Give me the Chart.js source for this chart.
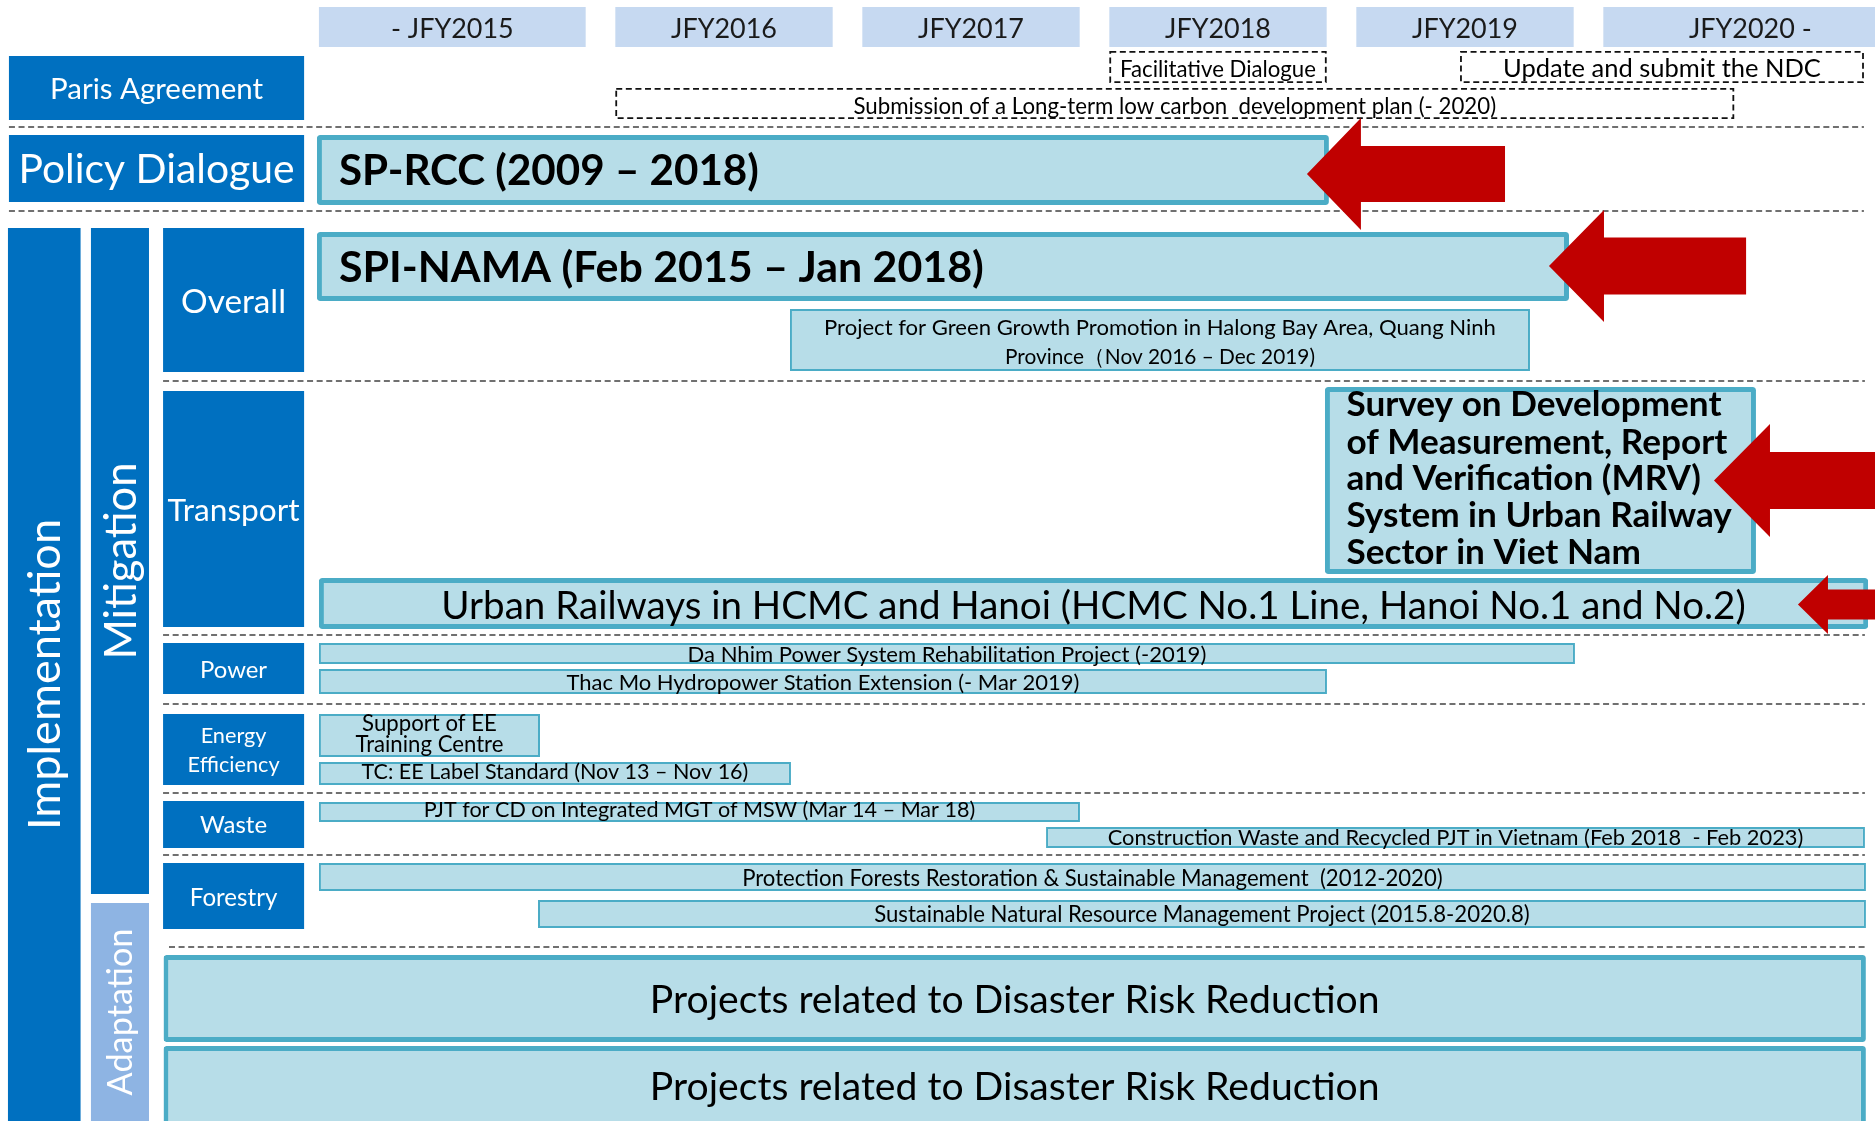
<!DOCTYPE html>
<html>
<head>
<meta charset="utf-8">
<title>Climate change cooperation timeline</title>
<script src="https://cdn.jsdelivr.net/npm/chart.js@4.4.1/dist/chart.umd.min.js"></script>
<style>
html,body{margin:0;padding:0;background:#ffffff;overflow:hidden;}
canvas{display:block;}
</style>
</head>
<body>
<canvas id="chart" width="1875" height="1121"></canvas>
<script>
// ================= DATA =================
const fiscalYears    = ['- JFY2015', 'JFY2016', 'JFY2017', 'JFY2018', 'JFY2019', 'JFY2020 -'];
const fiscalYearFrom = [2014.86, 2016.06, 2017.06, 2018.06, 2019.06, 2020.06];
const fiscalYearTo   = [2015.94, 2016.94, 2017.94, 2018.94, 2019.94, 2021.25];

const milestones    = ['Facilitative Dialogue', 'Update and submit the NDC',
                       'Submission of a Long-term low carbon  development plan (- 2020)'];
const milestoneFrom = [2018.06, 2019.48, 2016.06];
const milestoneTo   = [2018.94, 2021.115, 2020.59];

const topics  = ['Paris Agreement', 'Policy Dialogue'];
const groups  = ['Implementation', 'Mitigation', 'Adaptation'];
const sectors = ['Overall', 'Transport', 'Power', 'Energy\nEfficiency', 'Waste', 'Forestry'];

const projects = [
  'SP-RCC (2009 – 2018)',
  'SPI-NAMA (Feb 2015 – Jan 2018)',
  'Project for Green Growth Promotion in Halong Bay Area, Quang Ninh\nProvince（Nov 2016 – Dec 2019)',
  'Survey on Development\nof Measurement, Report\nand Verification (MRV)\nSystem in Urban Railway\nSector in Viet Nam',
  'Urban Railways in HCMC and Hanoi (HCMC No.1 Line, Hanoi No.1 and No.2)',
  'Da Nhim Power System Rehabilitation Project (-2019)',
  'Thac Mo Hydropower Station Extension (- Mar 2019)',
  'Support of EE\nTraining Centre',
  'TC: EE Label Standard (Nov 13 – Nov 16)',
  'PJT for CD on Integrated MGT of MSW (Mar 14 – Mar 18)',
  'Construction Waste and Recycled PJT in Vietnam (Feb 2018  - Feb 2023)',
  'Protection Forests Restoration & Sustainable Management  (2012-2020)',
  'Sustainable Natural Resource Management Project (2015.8-2020.8)',
  'Projects related to Disaster Risk Reduction',
  'Projects related to Disaster Risk Reduction'
];
const projectSector = ['Policy Dialogue', 'Overall', 'Overall', 'Transport', 'Transport', 'Power', 'Power',
  'Energy Efficiency', 'Energy Efficiency', 'Waste', 'Waste', 'Forestry', 'Forestry', 'Adaptation', 'Adaptation'];
const projectFrom = [2014.852, 2014.852, 2016.767, 2018.933, 2014.860, 2014.860, 2014.860, 2014.860,
  2014.860, 2014.860, 2017.804, 2014.860, 2015.747, 2014.231, 2014.231];
const projectTo = [2018.949, 2019.921, 2019.763, 2020.678, 2021.132, 2019.945, 2018.941, 2015.755,
  2016.771, 2017.941, 2021.119, 2021.123, 2021.123, 2021.123, 2021.123];

// red arrows highlighting projects
const arrowProject = [0, 1, 3, 4];
const arrowTip  = [2018.860, 2019.840, 2020.508, 2020.848];
const arrowTail = [2019.662, 2020.638, 2021.300, 2021.300];

// ================= LAYOUT & STYLE =================
const XMIN = 2013.5688, XMAX = 2021.1599;   // JFY axis range
const YMAX = 1121;                          // vertical layout units
const TEXT_DY = -0.5;
const FONT = 'Lato, "Open Sans", "DejaVu Sans", sans-serif';
const C = {
  dark: '#0070c0', adapt: '#8eb4e3', head: '#c6d9f1',
  fill: '#b7dde8', stroke: '#4bacc6', red: '#c00000',
  sep: '#707070', text: '#000000', headText: '#1a1a1a'
};
const fiscalBand = {y0: 7, y1: 47, capY: 28.5, fitText: 'JFY2016', fitW: 106};
const milestoneLayout = [
  {y0: 51, y1: 83, capY: 68.5, w: 196},
  {y0: 51, y1: 83, capY: 68, w: 318},
  {y0: 88, y1: 119, capY: 105.5, w: 643}
];
const topicLayout = [
  {x0: 2013.605, x1: 2014.800, y0: 56, y1: 120, capY: [89], w: 213},
  {x0: 2013.605, x1: 2014.800, y0: 135, y1: 202, capY: [169], w: 276}
];
const groupLayout = [
  {x0: 2013.601, x1: 2013.895, y0: 228, y1: 1121, w: 311, fill: C.dark},
  {x0: 2013.937, x1: 2014.172, y0: 228, y1: 894, w: 197, fill: C.dark},
  {x0: 2013.937, x1: 2014.172, y0: 903, y1: 1121, w: 167, fill: C.adapt}
];
const SECTOR_X0 = 2014.229, SECTOR_X1 = 2014.800;
const sectorLayout = [
  {y0: 228, y1: 372, capY: [301.5], w: 105},
  {y0: 391, y1: 627, capY: [510.5], w: 132},
  {y0: 643, y1: 694, capY: [670], w: 67},
  {y0: 714, y1: 785, capY: [735.5, 764.5], w: 92, fitLine: 1},
  {y0: 801, y1: 848, capY: [825], w: 67},
  {y0: 863, y1: 929, capY: [897], w: 87.5}
];
const projectLayout = [
  {y0: 135, y1: 205, thick: true, bold: true, align: 'left', pad: 22, capY: [170], w: 420},
  {y0: 232, y1: 301, thick: true, bold: true, align: 'left', pad: 22, capY: [267], w: 645},
  {y0: 309, y1: 371, capY: [327.5, 356.7], w: 672, fitLine: 0, maxW: [null, 310]},
  {y0: 387, y1: 574, thick: true, bold: true, align: 'left', pad: 21.5, capY: [404, 441.5, 477.7, 515, 552], w: 381, fitLine: 1},
  {y0: 578, y1: 629, thick: true, capY: [605.5], w: 1305},
  {y0: 643, y1: 664, capY: [654.5], w: 519},
  {y0: 669, y1: 694, capY: [682.5], w: 513},
  {y0: 714, y1: 757, capY: [722.8, 744], w: 148, fitLine: 1},
  {y0: 762, y1: 785, capY: [771.7], w: 387},
  {y0: 802, y1: 822, capY: [809.7], w: 552},
  {y0: 827, y1: 848, capY: [837.5], w: 696},
  {y0: 863, y1: 891, capY: [878], w: 701},
  {y0: 900, y1: 928, capY: [914], w: 656},
  {y0: 955, y1: 1042, thick: true, capY: [999], w: 730},
  {y0: 1046, y1: 1126, thick: true, capY: [1086], w: 730}
];
const arrowLayout = [
  {cy: 174, head: 56, shaft: 28, len: 54},
  {cy: 266, head: 56, shaft: 28.5, len: 55},
  {cy: 480.5, head: 56.5, shaft: 28.5, len: 56},
  {cy: 604.5, head: 29.5, shaft: 15, len: 30}
];
const separators = [
  {y: 127, x0: 2013.605, x1: 2021.115},
  {y: 211, x0: 2013.605, x1: 2021.115},
  {y: 381, x0: 2014.229, x1: 2021.119},
  {y: 635, x0: 2014.229, x1: 2021.119},
  {y: 704, x0: 2014.229, x1: 2021.119},
  {y: 793, x0: 2014.229, x1: 2021.119},
  {y: 855, x0: 2014.229, x1: 2021.119},
  {y: 947, x0: 2014.253, x1: 2021.132}
];

// ================= BUILD DATASETS =================
const registry = [];
const datasets = [];
function addBar(kind, idx, label, from, to, y0, y1, style) {
  registry.push({kind, idx});
  datasets.push({
    label,
    data: [{y: (y0 + y1) / 2, x: [from, to]}],
    barThickness: y1 - y0,
    grouped: false,
    backgroundColor: style.fill,
    borderColor: style.stroke || style.fill,
    borderWidth: style.bw || 0,
    borderRadius: style.radius || 0,
    borderSkipped: false,
    inflateAmount: 0
  });
}
fiscalYears.forEach((fy, i) => addBar('fy', i, fy, fiscalYearFrom[i], fiscalYearTo[i], fiscalBand.y0, fiscalBand.y1, {fill: C.head}));
topics.forEach((t, i) => { const l = topicLayout[i]; addBar('topic', i, t, l.x0, l.x1, l.y0, l.y1, {fill: C.dark}); });
groups.forEach((g, i) => { const l = groupLayout[i]; addBar('group', i, g, l.x0, l.x1, l.y0, l.y1, {fill: l.fill}); });
sectors.forEach((s, i) => { const l = sectorLayout[i]; addBar('sector', i, s, SECTOR_X0, SECTOR_X1, l.y0, l.y1, {fill: C.dark}); });
projects.forEach((p, i) => {
  const l = projectLayout[i];
  addBar('project', i, p, projectFrom[i], projectTo[i], l.y0, l.y1,
    l.thick ? {fill: C.fill, stroke: C.stroke, bw: 5, radius: 3} : {fill: C.fill, stroke: C.stroke, bw: 2});
});

// ================= DRAW HELPERS =================
function fitSize(ctx, text, weight, w) {
  ctx.font = `${weight} 100px ${FONT}`;
  return 100 * w / ctx.measureText(text).width;
}
function drawLines(ctx, lines, x, ys, size, weight, color, align, maxW) {
  ctx.font = `${weight} ${size}px ${FONT}`;
  ctx.fillStyle = color;
  ctx.textAlign = align;
  ctx.textBaseline = 'alphabetic';
  const cap = ctx.measureText('H').actualBoundingBoxAscent;
  lines.forEach((ln, i) => {
    const yy = ys[i] + cap / 2 + TEXT_DY;
    if (maxW && maxW[i]) ctx.fillText(ln, x, yy, maxW[i]);
    else ctx.fillText(ln, x, yy);
  });
}

const deco = {
  id: 'deco',
  beforeDatasetsDraw(chart) {
    const {ctx, scales: {x, y}} = chart;
    ctx.save();
    ctx.strokeStyle = C.sep;
    ctx.lineWidth = 2;
    ctx.setLineDash([6, 3.6]);
    separators.forEach(s => {
      const py = y.getPixelForValue(s.y);
      ctx.beginPath();
      ctx.moveTo(x.getPixelForValue(s.x0), py);
      ctx.lineTo(x.getPixelForValue(s.x1), py);
      ctx.stroke();
    });
    ctx.strokeStyle = '#111111';
    ctx.lineWidth = 1.8;
    ctx.setLineDash([6, 3.6]);
    milestones.forEach((m, i) => {
      const l = milestoneLayout[i];
      const x0 = x.getPixelForValue(milestoneFrom[i]), x1 = x.getPixelForValue(milestoneTo[i]);
      const y0 = y.getPixelForValue(l.y0), y1 = y.getPixelForValue(l.y1);
      ctx.strokeRect(x0 + 0.9, y0 + 0.9, x1 - x0 - 1.8, y1 - y0 - 1.8);
    });
    ctx.restore();
  },
  afterDatasetsDraw(chart) {
    const {ctx, scales: {x, y}} = chart;
    ctx.save();
    const el = i => chart.getDatasetMeta(i).data[0].getProps(['x', 'y', 'base', 'height'], true);
    const fySize = fitSize(ctx, fiscalBand.fitText, 400, fiscalBand.fitW);
    milestones.forEach((m, i) => {
      const l = milestoneLayout[i];
      const cx = (x.getPixelForValue(milestoneFrom[i]) + x.getPixelForValue(milestoneTo[i])) / 2;
      const sz = fitSize(ctx, m, 400, l.w);
      drawLines(ctx, [m], cx, [y.getPixelForValue(l.capY)], sz, 400, C.text, 'center');
    });
    registry.forEach((r, di) => {
      const e = el(di);
      const cx = (e.x + e.base) / 2;
      if (r.kind === 'fy') {
        drawLines(ctx, [fiscalYears[r.idx]], cx, [y.getPixelForValue(fiscalBand.capY)], fySize, 400, C.headText, 'center');
      } else if (r.kind === 'topic' || r.kind === 'sector') {
        const l = r.kind === 'topic' ? topicLayout[r.idx] : sectorLayout[r.idx];
        const lines = (r.kind === 'topic' ? topics[r.idx] : sectors[r.idx]).split('\n');
        const sz = fitSize(ctx, lines[l.fitLine || 0], 400, l.w);
        drawLines(ctx, lines, cx, l.capY.map(v => y.getPixelForValue(v)), sz, 400, '#ffffff', 'center');
      } else if (r.kind === 'group') {
        const l = groupLayout[r.idx];
        const sz = fitSize(ctx, groups[r.idx], 400, l.w);
        ctx.save();
        ctx.translate(cx, e.y);
        ctx.rotate(-Math.PI / 2);
        ctx.font = `400 ${sz}px ${FONT}`;
        const cap = ctx.measureText('H').actualBoundingBoxAscent;
        ctx.fillStyle = '#ffffff';
        ctx.textAlign = 'center';
        ctx.textBaseline = 'alphabetic';
        ctx.fillText(groups[r.idx], 0, cap / 2);
        ctx.restore();
      } else if (r.kind === 'project') {
        const l = projectLayout[r.idx];
        const lines = projects[r.idx].split('\n');
        const wt = l.bold ? 700 : 400;
        const sz = fitSize(ctx, lines[l.fitLine || 0], wt, l.w);
        const tx = l.align === 'left' ? Math.min(e.x, e.base) + l.pad : cx;
        drawLines(ctx, lines, tx, l.capY.map(v => y.getPixelForValue(v)), sz, wt, C.text, l.align || 'center', l.maxW);
      }
    });
    ctx.fillStyle = C.red;
    arrowProject.forEach((p, i) => {
      const a = arrowLayout[i];
      const xt = x.getPixelForValue(arrowTip[i]);
      const xe = x.getPixelForValue(arrowTail[i]);
      const cy = y.getPixelForValue(a.cy);
      ctx.beginPath();
      ctx.moveTo(xt, cy);
      ctx.lineTo(xt + a.len, cy - a.head);
      ctx.lineTo(xt + a.len, cy - a.shaft);
      ctx.lineTo(xe, cy - a.shaft);
      ctx.lineTo(xe, cy + a.shaft);
      ctx.lineTo(xt + a.len, cy + a.shaft);
      ctx.lineTo(xt + a.len, cy + a.head);
      ctx.closePath();
      ctx.fill();
    });
    ctx.restore();
  }
};

new Chart(document.getElementById('chart'), {
  type: 'bar',
  data: {datasets},
  options: {
    indexAxis: 'y',
    responsive: false,
    animation: false,
    devicePixelRatio: 1,
    events: [],
    layout: {padding: 0},
    plugins: {legend: {display: false}, tooltip: {enabled: false}},
    scales: {
      x: {type: 'linear', min: XMIN, max: XMAX, display: false, stacked: false},
      y: {type: 'linear', min: 0, max: YMAX, reverse: true, display: false, offset: false}
    }
  },
  plugins: [deco]
});
</script>
</body>
</html>
